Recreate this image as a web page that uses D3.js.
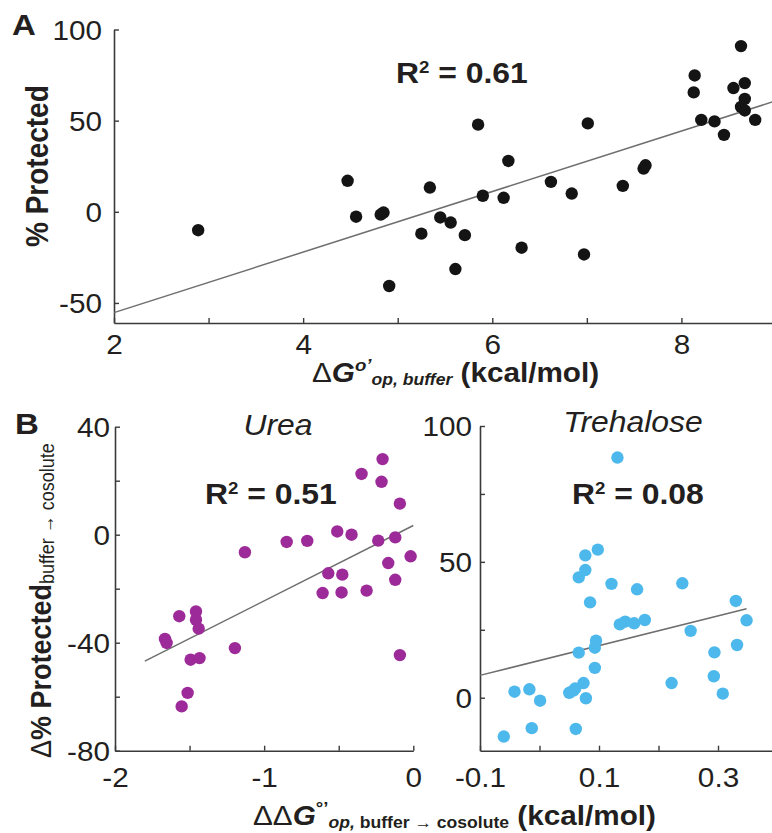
<!DOCTYPE html>
<html>
<head>
<meta charset="utf-8">
<script src="https://cdn.jsdelivr.net/npm/d3@7"></script>
<style>
  body { margin: 0; background: #fff; }
  svg { display: block; }
  text { font-family: "Liberation Sans", Arial, Helvetica, sans-serif; fill: #231f20; }
</style>
</head>
<body>
<svg id="fig" width="772" height="833"></svg>
<script>
// ---- Panel A: opening free energy in buffer vs. % protected ----
const dGopBuffer = [2.89, 4.47, 4.56, 4.82, 4.85, 4.91, 5.25, 5.34, 5.45, 5.56, 5.61, 5.71,
  5.85, 5.90, 6.12, 6.17, 6.31, 6.62, 6.84, 6.97, 7.01, 7.38, 7.60, 7.62,
  8.13, 8.14, 8.21, 8.35, 8.45, 8.55, 8.63, 8.63, 8.67, 8.67, 8.67, 8.78];
const pctProtected = [-10.1, 17, -2.7, -1.5, -0.4, -40.7, -12, 13.3, -3.1, -5.9, -31.4, -12.8,
  47.8, 8.8, 7.7, 27.9, -19.7, 16.4, 10, -23.4, 48.5, 14.2, 23.7, 25.5,
  65.5, 74.8, 50.4, 49.6, 42.2, 67.9, 90.9, 57.5, 70.6, 61.9, 55.6, 50.4];
const fitA = { intercept: -88.5, slope: 16.6, from: 2, to: 9 };
const r2A = "0.61";

// ---- Panel B (left): urea ----
const ddGUrea = [-0.206, -0.347, -0.213, -0.090, -0.510, -0.414, -0.849, -0.711, -0.235, -0.121,
  -0.018, -1.129, -0.168, -0.570, -0.476, -0.121, -0.608, -0.481, -0.313, -1.569,
  -1.457, -1.457, -1.439, -1.665, -1.654, -1.196, -1.493, -1.433, -0.090, -1.513, -1.553];
const dPctUrea = [28.0, 22.5, 19.6, 11.5, 1.2, 0, -2.7, -2.3, -2.2, -1.0,
  -8.0, -6.5, -10.5, -14.3, -14.8, -16.7, -21.6, -21.4, -20.7, -30.2,
  -28.4, -31.5, -34.8, -38.6, -40.1, -42.0, -46.3, -45.7, -44.6, -58.6, -63.6];
const fitUrea = { intercept: 3.4, slope: 27.9, from: -1.8, to: 0 };
const r2Urea = "0.51";

// ---- Panel B (right): trehalose ----
const ddGTre = [0.131, 0.098, 0.077, 0.077, 0.066, 0.121, 0.164, 0.240, 0.085, 0.330,
  0.135, 0.144, 0.159, 0.177, 0.348, 0.254, 0.095, 0.093, 0.066, 0.332,
  0.294, 0.093, 0.293, 0.222, 0.074, 0.308, -0.042, -0.017, 0.001, 0.050,
  0.057, 0.060, 0.078, -0.013, 0.061, -0.060];
const dPctTre = [88.4, 54.5, 52.4, 47.0, 44.3, 41.9, 39.9, 42.1, 35.1, 35.6,
  27.0, 28.0, 27.4, 28.6, 28.5, 24.6, 21.0, 18.4, 16.6, 19.4,
  16.7, 11.0, 7.9, 5.4, 5.4, 1.5, 2.2, 3.1, -1.1, 1.8,
  2.6, 3.4, -0.2, -11.2, -11.5, -14.3];
const fitTre = { intercept: 13.7, slope: 54.7, from: -0.1, to: 0.348 };
const r2Tre = "0.08";

// tick values and which ones carry labels
const ticksAx = [2, 3, 4, 5, 6, 7, 8, 9],        labelsAx = [2, 4, 6, 8];
const ticksAy = [-50, 0, 50, 100],               labelsAy = [-50, 0, 50, 100];
const ticksUx = [-2, -1.5, -1, -0.5, 0],         labelsUx = [-2, -1, 0];
const ticksUy = [-80, -60, -40, -20, 0, 20, 40], labelsUy = [-80, -40, 0, 40];
const ticksTx = [-0.1, 0, 0.1, 0.2, 0.3, 0.4],   labelsTx = [-0.1, 0.1, 0.3];
const ticksTy = [0, 25, 50, 75, 100],            labelsTy = [0, 50, 100];

const svg = d3.select("#fig");
const SX = 1.1;                // typeface is set slightly wide
const AXIS = "#3a3a3a", FITC = "#6e6e6e";
const BLACK = "#141414", PURPLE = "#9c2a98", CYAN = "#4cb8ec";

function txt(x, y, size, weight, style, anchor, rotate) {
  const t = svg.append("text")
    .attr("transform", rotate
      ? `translate(${x},${y}) rotate(-90) scale(1,${SX})`
      : `translate(${x},${y}) scale(${SX},1)`)
    .attr("font-size", size)
    .attr("text-anchor", anchor || "start");
  if (weight) t.attr("font-weight", weight);
  if (style) t.attr("font-style", style);
  return t;
}

// plain hyphen-minus tick labels
function fmt(v) { return String(+v.toFixed(2)); }

function panel(cfg) {
  const x = d3.scaleLinear().domain(cfg.xDomain).range(cfg.xRange);
  const y = d3.scaleLinear().domain(cfg.yDomain).range(cfg.yRange);
  const g = svg.append("g");

  // x axis (ticks point inward)
  const gx = g.append("g")
    .attr("transform", `translate(0,${cfg.yRange[0]})`)
    .call(d3.axisBottom(x).tickValues(cfg.xTicks).tickSizeInner(-5).tickSizeOuter(0)
      .tickFormat(v => cfg.xLabels.some(l => Math.abs(l - v) < 1e-9) ? fmt(v) : ""));
  // y axis
  const gy = g.append("g")
    .attr("transform", `translate(${cfg.xRange[0]},0)`)
    .call(d3.axisLeft(y).tickValues(cfg.yTicks).tickSizeInner(-5).tickSizeOuter(0)
      .tickFormat(v => cfg.yLabels.some(l => Math.abs(l - v) < 1e-9) ? fmt(v) : ""));

  [gx, gy].forEach(a => {
    a.select(".domain").attr("stroke", AXIS).attr("stroke-width", 1.6);
    a.selectAll(".tick line").attr("stroke", AXIS).attr("stroke-width", 1.4);
    a.selectAll(".tick text").attr("fill", "#231f20")
      .attr("font-family", '"Liberation Sans", Arial, Helvetica, sans-serif')
      .attr("font-size", cfg.tickFont);
  });
  gx.selectAll(".tick text").attr("y", cfg.xLabelOffset).attr("dy", null)
    .attr("transform", `scale(${SX},1)`);
  gy.selectAll(".tick text").attr("x", -cfg.yLabelGap / SX).attr("dy", "0.36em")
    .attr("transform", `scale(${SX},1)`);

  // regression line
  const f = cfg.fit;
  g.append("line")
    .attr("x1", x(f.from)).attr("y1", y(f.intercept + f.slope * f.from))
    .attr("x2", x(f.to)).attr("y2", y(f.intercept + f.slope * f.to))
    .attr("stroke", FITC).attr("stroke-width", 1.5);

  // data points
  g.selectAll("circle.pt").data(d3.zip(cfg.xs, cfg.ys)).join("circle")
    .attr("class", "pt")
    .attr("cx", d => x(d[0])).attr("cy", d => y(d[1]))
    .attr("r", 6.2).attr("fill", cfg.color);
  return { x, y };
}

// Panel A
panel({
  xDomain: [2, 9], xRange: [114, 776], yDomain: [-61, 100], yRange: [323, 29.5],
  xTicks: ticksAx, xLabels: labelsAx, yTicks: ticksAy, yLabels: labelsAy,
  tickFont: 27, xLabelOffset: 31, yLabelGap: 12,
  fit: fitA, xs: dGopBuffer, ys: pctProtected, color: BLACK
});
// Panel B urea
panel({
  xDomain: [-2, 0], xRange: [115, 413.3], yDomain: [-80, 40], yRange: [750.7, 426.7],
  xTicks: ticksUx, xLabels: labelsUx, yTicks: ticksUy, yLabels: labelsUy,
  tickFont: 27, xLabelOffset: 36, yLabelGap: 5,
  fit: fitUrea, xs: ddGUrea, ys: dPctUrea, color: PURPLE
});
// Panel B trehalose
panel({
  xDomain: [-0.1, 0.4], xRange: [480, 777.5], yDomain: [-19.5, 100], yRange: [750.7, 426],
  xTicks: ticksTx, xLabels: labelsTx, yTicks: ticksTy, yLabels: labelsTy,
  tickFont: 27, xLabelOffset: 36, yLabelGap: 8,
  fit: fitTre, xs: ddGTre, ys: dPctTre, color: CYAN
});

// panel letters
txt(12, 35, 30, "bold").text("A");
txt(15, 434, 30, "bold").text("B");

// R² annotations
function r2(x, y, val) {
  const t = txt(x, y, 29, "bold");
  t.append("tspan").text("R");
  t.append("tspan").attr("font-size", 17).attr("dy", -10).text("2");
  t.append("tspan").attr("dy", 10).text(" = " + val);
}
r2(396, 83, r2A);
r2(205, 504, r2Urea);
r2(572, 504, r2Tre);

// cosolute titles
txt(278, 435, 29, null, "italic", "middle").text("Urea");
txt(633, 432, 29, null, "italic", "middle").text("Trehalose");

// Panel A axis titles
{
  const t = txt(312, 382, 27);
  t.append("tspan").text("Δ");
  t.append("tspan").attr("font-weight", "bold").attr("font-style", "italic").text("G");
  t.append("tspan").attr("font-weight", "bold").attr("font-style", "italic")
    .attr("font-size", 17).attr("dy", -11).text("o’");
  t.append("tspan").attr("font-weight", "bold").attr("font-style", "italic")
    .attr("font-size", 16).attr("dy", 14).text("op, buffer");
  t.append("tspan").attr("font-weight", "bold").attr("dy", -3).text(" (kcal/mol)");
}
txt(48, 247, 28, "bold", null, "start", true).text("% Protected");

// Panel B axis titles
{
  const t = txt(253, 825, 27);
  t.append("tspan").text("ΔΔ");
  t.append("tspan").attr("font-weight", "bold").attr("font-style", "italic").text("G");
  t.append("tspan").attr("font-weight", "bold")
    .attr("font-size", 17).attr("dy", -11).text("°’");
  t.append("tspan").attr("font-weight", "bold").attr("font-style", "italic")
    .attr("font-size", 16).attr("dy", 14).text("op,");
  t.append("tspan").attr("font-weight", "bold").attr("font-size", 16).text(" buffer → cosolute");
  t.append("tspan").attr("font-weight", "bold").attr("dy", -3).text(" (kcal/mol)");
}
{
  const t = txt(51, 758, 27, null, null, "start", true);
  t.append("tspan").text("Δ");
  t.append("tspan").attr("font-weight", "bold").text("% Protected");
  t.append("tspan").attr("font-size", 18).attr("dy", 3).text("buffer → cosolute");
}
</script>
</body>
</html>
